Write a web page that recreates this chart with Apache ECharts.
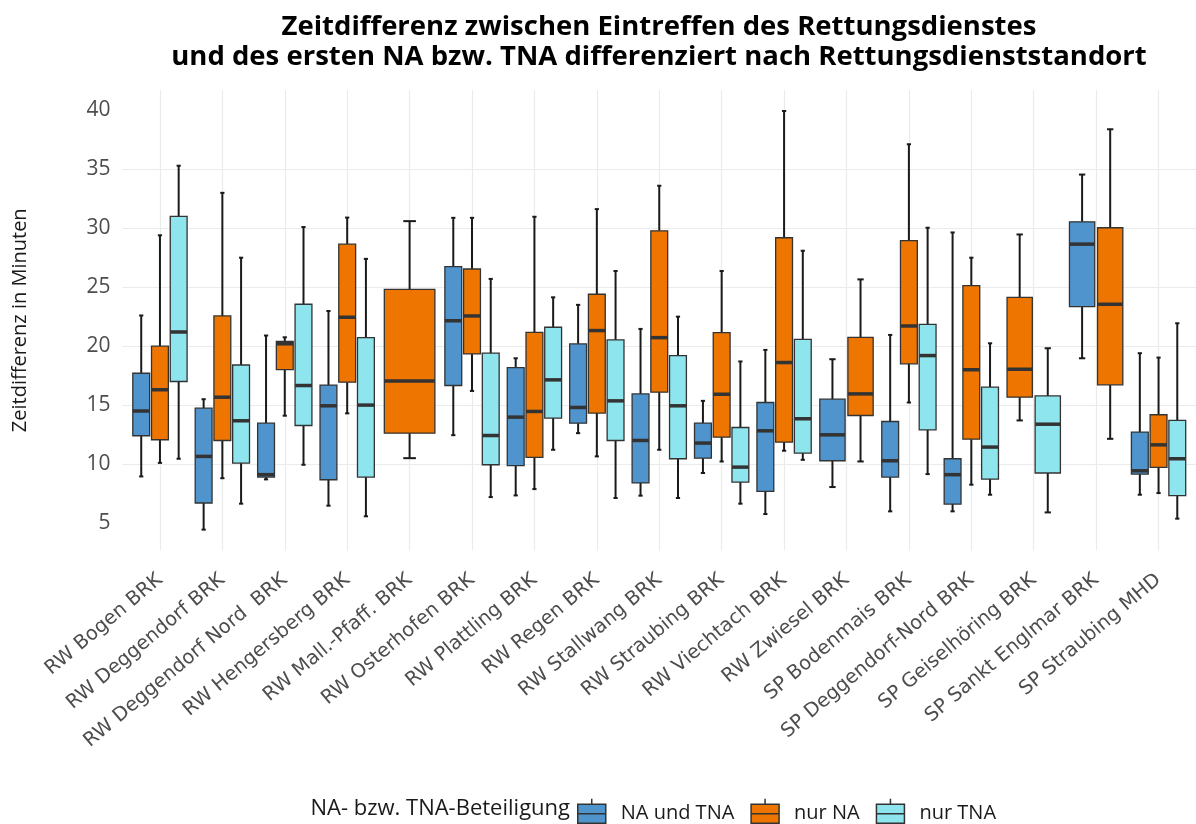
<!DOCTYPE html>
<html>
<head>
<meta charset="utf-8">
<script src="https://cdn.jsdelivr.net/npm/echarts@6/dist/echarts.min.js"></script>
<style>
  html, body { margin: 0; padding: 0; background: #fff; }
  #chart { width: 1196px; height: 824px; }
</style>
</head>
<body>
<div id="chart"></div>
<script>
// Rettungsdienststandorte (x-Achse)
const categories = [
  'RW Bogen BRK', 'RW Deggendorf BRK', 'RW Deggendorf Nord  BRK', 'RW Hengersberg BRK',
  'RW Mall.-Pfaff. BRK', 'RW Osterhofen BRK', 'RW Plattling BRK', 'RW Regen BRK',
  'RW Stallwang BRK', 'RW Straubing BRK', 'RW Viechtach BRK', 'RW Zwiesel BRK',
  'SP Bodenmais BRK', 'SP Deggendorf-Nord BRK', 'SP Geiselhöring BRK',
  'SP Sankt Englmar BRK', 'SP Straubing MHD'
];

const yTicks = [5, 10, 15, 20, 25, 30, 35, 40];

// je Standort: [unterer Whisker, Q1, Median, Q3, oberer Whisker], null = keine Daten
const naUndTna = [
  [8.95, 12.4, 14.5, 17.7, 22.6],
  [4.44, 6.7, 10.65, 14.74, 15.5],
  [8.7, 8.9, 9.1, 13.47, 20.9],
  [6.47, 8.67, 14.94, 16.7, 22.98],
  null,
  [12.45, 16.66, 22.15, 26.75, 30.88],
  [7.34, 9.86, 13.98, 18.18, 18.97],
  [12.62, 13.47, 14.8, 20.19, 23.5],
  [7.32, 8.4, 12.0, 15.95, 21.46],
  [9.24, 10.5, 11.78, 13.47, 15.36],
  [5.76, 7.68, 12.82, 15.22, 19.68],
  [8.05, 10.28, 12.48, 15.5, 18.89],
  [5.99, 8.9, 10.28, 13.61, 20.95],
  [5.99, 6.61, 9.1, 10.45, 29.64],
  null,
  [18.97, 23.35, 28.65, 30.54, 34.55],
  [7.4, 9.15, 9.43, 12.71, 19.4]
];

const nurNa = [
  [10.1, 12.06, 16.3, 20.0, 29.4],
  [8.8, 12.0, 15.67, 22.56, 33.0],
  [14.1, 18.0, 20.2, 20.4, 20.75],
  [14.3, 16.94, 22.45, 28.65, 30.9],
  [10.5, 12.62, 17.05, 24.82, 30.6],
  [16.2, 19.34, 22.56, 26.54, 30.88],
  [7.88, 10.56, 14.46, 21.17, 30.97],
  [10.65, 14.32, 21.32, 24.4, 31.62],
  [11.21, 16.1, 20.72, 29.78, 33.6],
  [10.22, 12.28, 15.92, 21.15, 26.37],
  [11.13, 11.86, 18.61, 29.19, 39.94],
  [10.22, 14.12, 15.95, 20.75, 25.66],
  [15.22, 18.5, 21.71, 28.94, 37.12],
  [8.25, 12.11, 18.0, 25.13, 27.5],
  [13.7, 15.67, 18.04, 24.14, 29.47],
  [12.14, 16.72, 23.55, 30.04, 38.39],
  [7.54, 9.72, 11.63, 14.18, 19.03]
];

const nurTna = [
  [10.45, 17.0, 21.2, 31.0, 35.3],
  [6.64, 10.08, 13.67, 18.4, 27.5],
  [9.94, 13.27, 16.66, 23.55, 30.1],
  [5.57, 8.9, 15.0, 20.72, 27.4],
  null,
  [7.2, 9.94, 12.42, 19.4, 25.7],
  [11.21, 13.9, 17.14, 21.6, 24.14],
  [7.12, 12.0, 15.36, 20.53, 26.37],
  [7.12, 10.45, 14.94, 19.2, 22.5],
  [6.64, 8.47, 9.74, 13.1, 18.7],
  [10.36, 10.93, 13.84, 20.58, 28.09],
  null,
  [9.15, 12.9, 19.2, 21.85, 30.04],
  [7.4, 8.73, 11.44, 16.52, 20.24],
  [5.9, 9.24, 13.38, 15.78, 19.82],
  null,
  [5.37, 7.32, 10.45, 13.7, 21.94]
];

const groups = [
  { name: 'NA und TNA', color: '#4F94CD', data: naUndTna },
  { name: 'nur NA', color: '#EE7600', data: nurNa },
  { name: 'nur TNA', color: '#8EE5EE', data: nurTna }
];

// wie ggplot dodge: Boxen teilen sich die Breite nur mit vorhandenen Gruppen
function buildData(g) {
  const out = [];
  categories.forEach((c, i) => {
    const stats = groups[g].data[i];
    if (!stats) return;
    const present = groups.map((gr, k) => gr.data[i] ? k : -1).filter(k => k >= 0);
    out.push([i + 1].concat(stats, [present.indexOf(g), present.length]));
  });
  return out;
}

function renderBox(params, api) {
  const x = api.value(0);
  const slot = api.value(6), n = api.value(7);
  const unit = api.size([1, 0])[0];
  const total = unit * 0.9, slotW = total / n, boxW = slotW * 0.9, capW = boxW * 0.25;
  const c = api.coord([x, 0])[0] - total / 2 + slotW * (slot + 0.5);
  const y = k => api.coord([x, api.value(k)])[1];
  const yLo = y(1), yQ1 = y(2), yMed = y(3), yQ3 = y(4), yHi = y(5);
  const ws = { stroke: '#1a1a1a', lineWidth: 2 };
  return {
    type: 'group',
    children: [
      { type: 'line', shape: { x1: c, y1: yHi, x2: c, y2: yQ3 }, style: ws },
      { type: 'line', shape: { x1: c, y1: yQ1, x2: c, y2: yLo }, style: ws },
      { type: 'line', shape: { x1: c - capW / 2, y1: yHi, x2: c + capW / 2, y2: yHi }, style: ws },
      { type: 'line', shape: { x1: c - capW / 2, y1: yLo, x2: c + capW / 2, y2: yLo }, style: ws },
      { type: 'rect', shape: { x: c - boxW / 2, y: yQ3, width: boxW, height: yQ1 - yQ3 },
        style: { fill: api.visual('color'), stroke: '#333', lineWidth: 1.3 } },
      { type: 'line', shape: { x1: c - boxW / 2, y1: yMed, x2: c + boxW / 2, y2: yMed },
        style: { stroke: '#333', lineWidth: 3.5 } }
    ]
  };
}

const boxIcon = 'path://M14,0V5.5M0,5.5H28V24.5H0ZM0,15H28M14,24.5V30';

const chart = echarts.init(document.getElementById('chart'));
chart.setOption({
  backgroundColor: '#fff',
  animation: false,
  title: [
    {
      text: 'Zeitdifferenz zwischen Eintreffen des Rettungsdienstes\nund des ersten NA bzw. TNA differenziert nach Rettungsdienststandort',
      left: 654, top: 7, textAlign: 'center',
      textStyle: { fontFamily: 'Open Sans', fontWeight: 'bold', fontSize: 27.5, lineHeight: 30, color: '#000' }
    },
    {
      text: 'NA- bzw. TNA-Beteiligung',
      left: 565, top: 793, textAlign: 'right',
      textStyle: { fontFamily: 'Open Sans', fontWeight: 'normal', fontSize: 22, color: '#1a1a1a' }
    }
  ],
  legend: {
    left: 572, top: 793,
    itemWidth: 28, itemHeight: 30, itemGap: 16,
    data: groups.map(g => ({ name: g.name, icon: boxIcon })),
    itemStyle: { borderColor: '#333', borderWidth: 1.5 },
    textStyle: { fontFamily: 'Open Sans', fontSize: 20, color: '#1a1a1a', padding: [0, 0, 0, 10] }
  },
  grid: { left: 122.5, right: -1.5, top: 90, bottom: 273.5, containLabel: false },
  xAxis: {
    type: 'value', min: 0.4, max: 17.6, splitNumber: 17,
    axisLine: { show: false }, axisTick: { show: false },
    axisLabel: {
      customValues: categories.map((c, i) => i + 1),
      formatter: v => categories[Math.round(v) - 1] || '',
      rotate: 40, margin: 27,
      fontFamily: 'DejaVu Sans', fontSize: 19.5, color: '#4d4d4d'
    },
    splitLine: { show: true, showMinLine: false, showMaxLine: false, lineStyle: { color: '#ebebeb', width: 1.2 } }
  },
  yAxis: {
    type: 'value', min: 2.67, max: 41.72,
    name: 'Zeitdifferenz in Minuten', nameLocation: 'middle', nameGap: 92,
    nameTextStyle: { fontFamily: 'Open Sans', fontSize: 20, color: '#1a1a1a' },
    axisLine: { show: false },
    axisTick: { show: false, customValues: yTicks },
    axisLabel: { customValues: yTicks, margin: 12, fontFamily: 'Open Sans', fontSize: 21, color: '#4d4d4d' },
    splitLine: { show: true, showMinLine: false, showMaxLine: false, lineStyle: { color: '#ebebeb', width: 1.2 } }
  },
  series: groups.map((g, k) => ({
    type: 'custom',
    name: g.name,
    itemStyle: { color: g.color },
    renderItem: renderBox,
    encode: { x: 0, y: [1, 5] },
    data: buildData(k)
  }))
});
</script>
</body>
</html>
